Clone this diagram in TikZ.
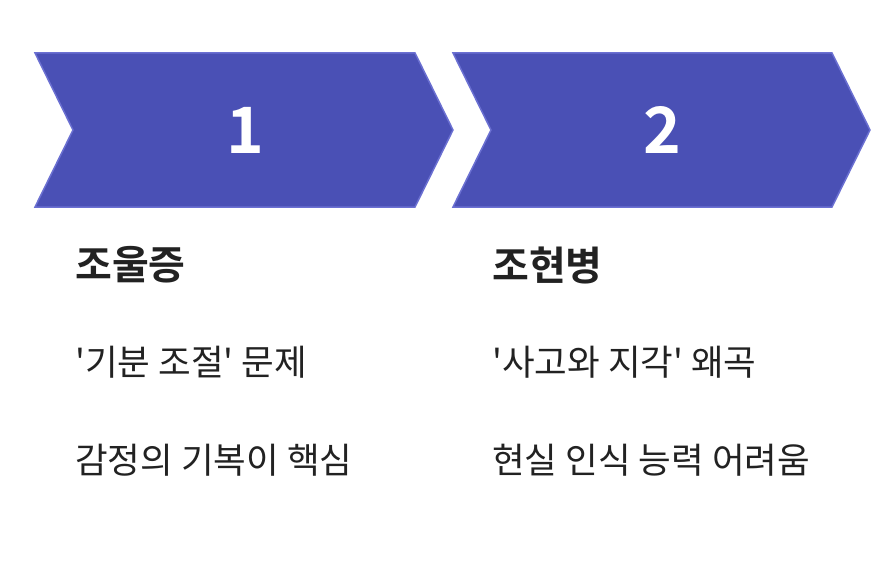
\documentclass[tikz,border=0pt]{standalone}
\usepackage{fontspec}
\newfontfamily\kr{Noto Sans CJK KR}
\newfontfamily\krb{Noto Sans CJK KR Bold}
\definecolor{chev}{HTML}{4A50B5}
\definecolor{chevedge}{HTML}{6B70D2}
\definecolor{txt}{HTML}{222222}
\begin{document}
\begin{tikzpicture}[x=1pt,y=-1pt,
  chevron/.style={fill=chev,draw=chevedge,line width=1.5pt},
  num/.style={text=white,font=\krb\fontsize{64}{64}\selectfont},
  ttl/.style={anchor=west,text=txt,font=\krb\fontsize{40}{40}\selectfont,inner sep=0},
  body/.style={anchor=west,text=txt,font=\kr\fontsize{35.5}{35.5}\selectfont,inner sep=0}]
\useasboundingbox (0,0) rectangle (890,580);
\fill[white] (0,0) rectangle (890,580);
\draw[chevron] (35,53) -- (415,53) -- (453,130) -- (415,207) -- (35,207) -- (73,130) -- cycle;
\draw[chevron] (453,53) -- (832,53) -- (870,130) -- (832,207) -- (453,207) -- (491,130) -- cycle;
\node[num] (n1) at (245,130) {1};
\node[num] (n2) at (662,130) {2};
\node[ttl] (t1) at (75,265) {조울증};
\node[ttl] (t2) at (492,265) {조현병};
\node[body] (a1) at (75,362) {'기분 조절' 문제};
\node[body] (b1) at (75,460) {감정의 기복이 핵심};
\node[body] (a2) at (492,362) {'사고와 지각' 왜곡};
\node[body] (b2) at (492,460) {현실 인식 능력 어려움};
\end{tikzpicture}
\end{document}
